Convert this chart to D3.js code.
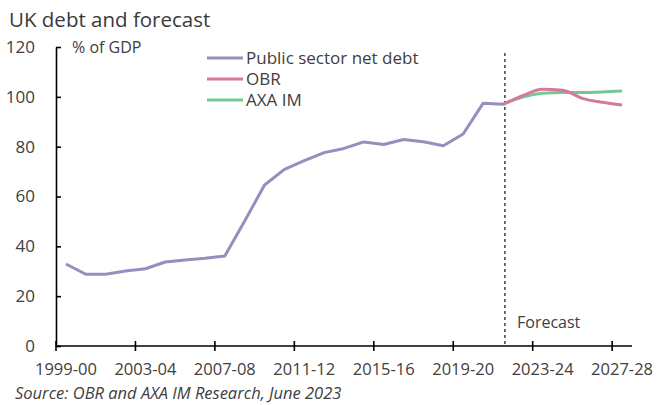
<!DOCTYPE html>
<meta charset="utf-8">
<script src="https://d3js.org/d3.v7.min.js"></script>
<style>
  body { margin: 0; background: #fff; }
  svg text { font-family: "Open Sans", Lato, sans-serif; fill: #404040; }
</style>
<div id="chart"></div>
<script>
    // fiscal years on the category axis
    var years = ["1999-00","2000-01","2001-02","2002-03","2003-04","2004-05","2005-06","2006-07",
                 "2007-08","2008-09","2009-10","2010-11","2011-12","2012-13","2013-14","2014-15",
                 "2015-16","2016-17","2017-18","2018-19","2019-20","2020-21","2021-22","2022-23",
                 "2023-24","2024-25","2025-26","2026-27","2027-28"];

    // public sector net debt, % of GDP (outturn)
    var debt = [32.9, 28.8, 28.8, 30.1, 31.0, 33.7, 34.5, 35.2, 36.1, 50.2,
                64.6, 70.9, 74.4, 77.6, 79.3, 81.9, 80.9, 82.9, 82.0, 80.4,
                85.1, 97.4, 97.0];

    // forecasts start from the last outturn year
    var forecastYears = ["2021-22","2022-23","2023-24","2024-25","2025-26","2026-27","2027-28"];
    var obr = [97.0, 100.5, 103.0, 102.6, 99.4, 97.8, 96.7];
    var axa = [97.0, 99.9, 101.4, 101.7, 101.7, 101.9, 102.3];

    var labelYears = ["1999-00","2003-04","2007-08","2011-12","2015-16","2019-20","2023-24","2027-28"];
    var yTicks = [0, 20, 40, 60, 80, 100, 120];

    var W = 657, H = 405;
    var svg = d3.select("#chart").append("svg")
        .attr("width", W).attr("height", H);

    var x = d3.scaleBand().domain(years).range([56, 632]).padding(0);
    var y = d3.scaleLinear().domain([0, 120]).range([346, 47]);
    var cx = function(c) { return x(c) + x.bandwidth() / 2; };

    // title
    svg.append("text").attr("x", 9).attr("y", 27)
        .style("font-size", "20.5px").style("fill", "#3a3a3a")
        .text("UK debt and forecast");

    // y axis, ticks pointing inwards
    var yAxis = svg.append("g").attr("transform", "translate(56,0)")
        .call(d3.axisLeft(y).tickValues(yTicks).tickSizeInner(-5).tickSizeOuter(0).tickPadding(21));
    yAxis.selectAll("path, line").attr("stroke", "#000").attr("stroke-width", 1.6);
    yAxis.selectAll("text").style("font-size", "17px").style("fill", "#404040").attr("font-family", null);

    svg.append("text").attr("x", 72).attr("y", 53)
        .style("font-size", "16px").text("% of GDP");

    // x axis: labels at category centres, ticks on the category boundaries
    var xAxis = svg.append("g").attr("transform", "translate(0,346)")
        .call(d3.axisBottom(x).tickValues(labelYears).tickSize(0).tickPadding(17));
    xAxis.select(".domain").remove();
    xAxis.selectAll("text").style("font-size", "16.5px").style("fill", "#404040").attr("font-family", null);

    svg.append("line").attr("x1", x.range()[0]).attr("x2", x.range()[1])
        .attr("y1", y(0)).attr("y2", y(0))
        .attr("stroke", "#000").attr("stroke-width", 1.6);
    svg.selectAll(".xtick").data(labelYears).enter().append("line")
        .attr("class", "xtick")
        .attr("x1", function(d) { return x(d); }).attr("x2", function(d) { return x(d); })
        .attr("y1", y(0) - 5).attr("y2", y(0) + 5)
        .attr("stroke", "#000").attr("stroke-width", 1.6);

    // forecast divider
    svg.append("line")
        .attr("x1", cx("2021-22") + 2).attr("x2", cx("2021-22") + 2)
        .attr("y1", 53).attr("y2", y(0))
        .attr("stroke", "#333").attr("stroke-width", 1.4).attr("stroke-dasharray", "3,3");
    svg.append("text").attr("x", 517).attr("y", 328)
        .style("font-size", "16px").text("Forecast");

    // lines
    var line = d3.line()
        .x(function(d) { return cx(d[0]); })
        .y(function(d) { return y(d[1]); });
    var smooth = d3.line()
        .x(function(d) { return cx(d[0]); })
        .y(function(d) { return y(d[1]); })
        .curve(d3.curveMonotoneX);

    var series = [
        { name: "AXA IM", color: "#74c990", pts: d3.zip(forecastYears, axa), gen: smooth },
        { name: "OBR", color: "#d7779c", pts: d3.zip(forecastYears, obr), gen: smooth },
        { name: "Public sector net debt", color: "#9291be", pts: d3.zip(years.slice(0, debt.length), debt), gen: line }
    ];
    series.forEach(function(s) {
        svg.append("path").datum(s.pts)
            .attr("fill", "none").attr("stroke", s.color)
            .attr("stroke-width", 3).attr("stroke-linejoin", "round")
            .attr("d", s.gen);
    });

    // legend
    var legend = [
        { name: "Public sector net debt", color: "#9291be" },
        { name: "OBR", color: "#d7779c" },
        { name: "AXA IM", color: "#74c990" }
    ];
    var lg = svg.selectAll(".lg").data(legend).enter().append("g")
        .attr("transform", function(d, i) { return "translate(207," + (58 + i * 21) + ")"; });
    lg.append("line").attr("x1", 0).attr("x2", 36)
        .attr("stroke", function(d) { return d.color; }).attr("stroke-width", 3);
    lg.append("text").attr("x", 39).attr("dy", "0.35em")
        .style("font-size", "17px").text(function(d) { return d.name; });

    // source note
    svg.append("text").attr("x", 15).attr("y", 399)
        .style("font-size", "16.5px").style("font-style", "italic")
        .text("Source: OBR and AXA IM Research, June 2023");
</script>
